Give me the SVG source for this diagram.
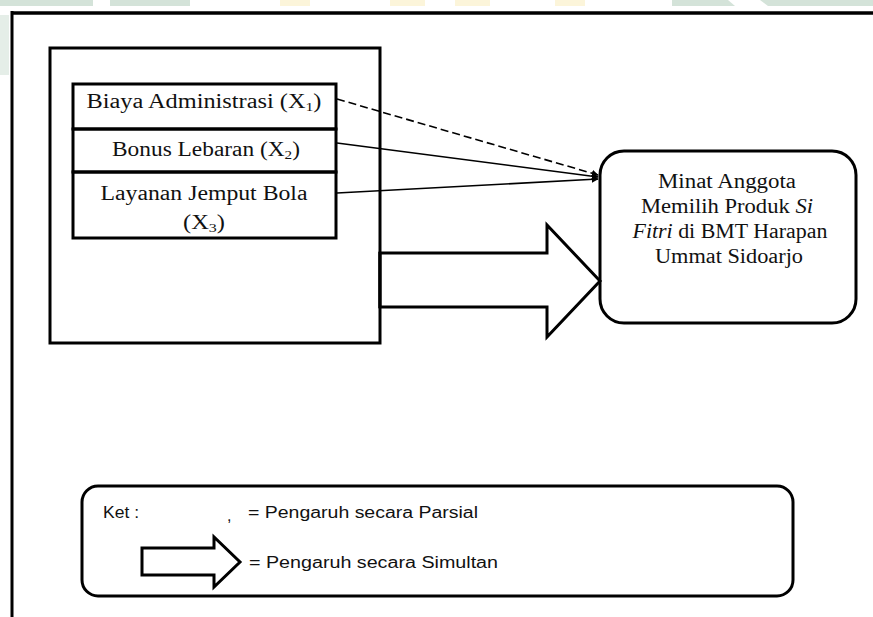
<svg xmlns="http://www.w3.org/2000/svg" width="873" height="617" viewBox="0 0 873 617">
<style>
.box{fill:none;stroke:#000;stroke-width:3}
.serif{font-family:"Liberation Serif","Times New Roman",serif;font-size:20px;fill:#111}
.sans{font-family:"Liberation Sans",Arial,sans-serif;font-size:16px;fill:#111}
.conn{stroke:#000;stroke-width:1.6;fill:none}
.wm-g{fill:#d4e3d9}
.wm-y{fill:#fcf5da}
</style>
<defs>
<marker id="ah" viewBox="0 0 10 10" refX="9" refY="5" markerWidth="7" markerHeight="7" markerUnits="userSpaceOnUse" orient="auto">
<path d="M0,0 L10,5 L0,10 z" fill="#000"/>
</marker>
</defs>
<rect width="873" height="617" fill="#fff"/>
<g id="watermark">
<rect class="wm-g" x="0" y="0" width="93" height="6"/>
<rect class="wm-g" x="110" y="0" width="80" height="6"/>
<rect class="wm-y" x="280" y="0" width="30" height="6"/>
<rect class="wm-y" x="390" y="0" width="35" height="6"/>
<rect class="wm-y" x="455" y="0" width="35" height="6"/>
<rect class="wm-y" x="555" y="0" width="30" height="6"/>
<polygon class="wm-g" points="672,0 728,0 735,6 672,6"/>
<polygon class="wm-g" points="760,0 873,0 873,6 768,6"/>
<rect class="wm-g" x="0" y="15" width="9" height="60" opacity="0.6"/>
</g>
<g id="frame">
<line x1="11" y1="13" x2="873" y2="13" stroke="#000" stroke-width="3.5"/>
<line x1="12" y1="11" x2="12" y2="617" stroke="#000" stroke-width="3"/>
</g>
<g id="independent-group">
<rect class="box" x="50" y="48" width="330" height="295"/>
</g>
<g id="x1">
<rect class="box" x="73" y="84" width="263" height="45"/>
<text class="serif" x="204" y="108" text-anchor="middle" textLength="235" lengthAdjust="spacingAndGlyphs">Biaya Administrasi (X<tspan font-size="13" dy="3">1</tspan><tspan dy="-3">)</tspan></text>
</g>
<g id="x2">
<rect class="box" x="73" y="129" width="263" height="43"/>
<text class="serif" x="206" y="156" text-anchor="middle" textLength="188" lengthAdjust="spacingAndGlyphs">Bonus Lebaran (X<tspan font-size="13" dy="3">2</tspan><tspan dy="-3">)</tspan></text>
</g>
<g id="x3">
<rect class="box" x="73" y="172" width="263" height="66"/>
<text class="serif" x="204" y="200" text-anchor="middle" textLength="207" lengthAdjust="spacingAndGlyphs">Layanan Jemput Bola</text>
<text class="serif" x="204" y="229" text-anchor="middle" textLength="42" lengthAdjust="spacingAndGlyphs">(X<tspan font-size="13" dy="3">3</tspan><tspan dy="-3">)</tspan></text>
</g>
<g id="y">
<rect class="box" x="600" y="151" width="256" height="172" rx="24" ry="24"/>
<text class="serif" x="727" y="188" text-anchor="middle" textLength="138" lengthAdjust="spacingAndGlyphs">Minat Anggota</text>
<text class="serif" x="727" y="213" text-anchor="middle" textLength="172" lengthAdjust="spacingAndGlyphs">Memilih Produk <tspan font-style="italic">Si</tspan></text>
<text class="serif" x="730" y="238" text-anchor="middle" textLength="195" lengthAdjust="spacingAndGlyphs"><tspan font-style="italic">Fitri</tspan> di BMT Harapan</text>
<text class="serif" x="729" y="263" text-anchor="middle" textLength="148" lengthAdjust="spacingAndGlyphs">Ummat Sidoarjo</text>
</g>
<g id="connectors">
<line class="conn" x1="337" y1="99" x2="598" y2="175" stroke-dasharray="8,4" marker-end="url(#ah)"/>
<line class="conn" x1="337" y1="143" x2="598" y2="177" marker-end="url(#ah)"/>
<line class="conn" x1="337" y1="193" x2="598" y2="179" marker-end="url(#ah)"/>
<polygon id="simultaneous-arrow" points="380,253 547,253 547,225 600,281 547,337 547,307 380,307" fill="#fff" stroke="#000" stroke-width="3" stroke-linejoin="miter"/>
<line x1="380" y1="252" x2="380" y2="308" stroke="#000" stroke-width="3"/>
</g>
<g id="legend">
<rect class="box" x="82" y="486" width="711" height="110" rx="16" ry="16"/>
<text class="sans" x="103" y="518" textLength="36" lengthAdjust="spacingAndGlyphs">Ket :</text>
<text class="sans" x="227" y="521">,</text>
<text class="sans" x="248" y="518" textLength="230" lengthAdjust="spacingAndGlyphs">= Pengaruh secara Parsial</text>
<polygon points="142,548 214,548 214,537 240,562 214,587 214,575 142,575" fill="#fff" stroke="#000" stroke-width="3"/>
<text class="sans" x="249" y="568" textLength="249" lengthAdjust="spacingAndGlyphs">= Pengaruh secara Simultan</text>
</g>
</svg>
